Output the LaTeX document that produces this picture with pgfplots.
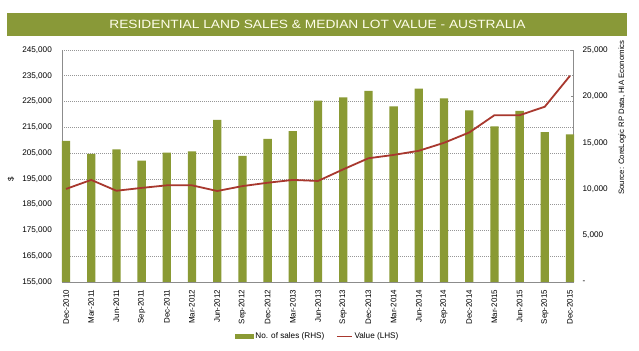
\documentclass[border=0pt]{standalone}
\usepackage{fontspec}
\setmainfont{Liberation Sans}
\usepackage{pgfplots}
\pgfplotsset{compat=1.18}
\definecolor{olivebar}{RGB}{138,154,52}
\definecolor{titlegreen}{RGB}{137,153,56}
\definecolor{linered}{RGB}{168,56,46}
\definecolor{gridgray}{RGB}{150,150,150}
\definecolor{axisgray}{RGB}{140,140,140}
\begin{document}
\begin{tikzpicture}
\useasboundingbox (0bp,0bp) rectangle (639bp,351bp);
\fill[white] (0bp,0bp) rectangle (639bp,351bp);
% title bar
\fill[titlegreen] (7.3bp,315.3bp) rectangle (626.7bp,337.7bp);
\node[text=white!92!yellow, inner sep=0pt] at (317.4bp,326.5bp) {\scalebox{1.15}[1]{\fontsize{12}{14}\selectfont RESIDENTIAL LAND SALES \& MEDIAN LOT VALUE - AUSTRALIA}};

\pgfplotsset{
  common/.style={
    at={(62bp,69bp)}, anchor=south west,
    scale only axis, width=511.5bp, height=232bp,
    xmin=-0.159, xmax=20.139,
    clip=false, scaled y ticks=false, scaled x ticks=false,
  }
}
% Axis 1: left scale, grid
\begin{axis}[common,
  ymin=155000, ymax=245000,
  axis x line=none, axis y line=left,
  axis line style={-, draw=axisgray, line width=0.6bp},
  ytick={155000,165000,175000,185000,195000,205000,215000,225000,235000,245000},
  yticklabels={{155,000},{165,000},{175,000},{185,000},{195,000},{205,000},{215,000},{225,000},{235,000},{245,000}},
  yticklabel style={font=\fontsize{8.2}{9}\selectfont, inner sep=0pt},
  yticklabel shift=10bp,
  major tick length=0pt,
  ymajorgrids, grid style={draw=gridgray, line width=0.6bp, dash pattern=on 0.8bp off 1.2bp},
]
\end{axis}
% Axis 2: right scale, bars
\begin{axis}[common,
  ymin=0, ymax=25000,
  axis x line=bottom, axis y line=right,
  axis line style={-, draw=axisgray, line width=0.6bp},
  ybar, bar width=8.3bp,
  xtick={0,1,...,20},
  xticklabels={Dec-2010,Mar-2011,Jun-2011,Sep-2011,Dec-2011,Mar-2012,Jun-2012,Sep-2012,Dec-2012,Mar-2013,Jun-2013,Sep-2013,Dec-2013,Mar-2014,Jun-2014,Sep-2014,Dec-2014,Mar-2015,Jun-2015,Sep-2015,Dec-2015},
  xticklabel style={rotate=90, anchor=east, inner sep=0pt, font=\fontsize{8}{9}\selectfont},
  xticklabel shift=5bp,
  xtick style={draw=none},
  ytick={0,5000,10000,15000,20000,25000},
  yticklabels={{-},{5,000},{10,000},{15,000},{20,000},{25,000}},
  yticklabel style={font=\fontsize{8.2}{9}\selectfont, inner sep=0pt, anchor=west},
  yticklabel shift=9bp,
  ytick style={draw=axisgray, line width=0.6bp},
  ytick align=inside, major tick length=2.5bp,
]
\addplot[fill=olivebar, draw=none] coordinates {
(0,15200) (1,13800) (2,14300) (3,13070) (4,13930) (5,14080) (6,17460)
(7,13580) (8,15410) (9,16270) (10,19540) (11,19900) (12,20600) (13,18930)
(14,20830) (15,19790) (16,18500) (17,16780) (18,18430) (19,16160) (20,15910)};
\end{axis}
% Axis 3: line on left scale
\begin{axis}[common,
  ymin=155000, ymax=245000,
  hide axis,
  legend style={at={(axis description cs:0.338,-0.235)}, anchor=west, draw=none, fill=none,
    font=\fontsize{8.2}{9}\selectfont, legend columns=2, inner sep=0pt,
    /tikz/every even column/.append style={column sep=10bp}},
  legend cell align=left,
]
\addlegendimage{legend image code/.code={\fill[olivebar] (0bp,-2bp) rectangle (18bp,2bp);}}
\addlegendentry{No. of sales (RHS)}
\addplot[color=linered, line width=1.8bp, mark=none,
  legend image code/.code={\draw[linered, line width=1.2bp] (0bp,0bp) -- (15bp,0bp);}] coordinates {
(0,191100) (1,194600) (2,190400) (3,191500) (4,192500) (5,192500) (6,190300)
(7,192200) (8,193500) (9,194600) (10,194200) (11,198700) (12,203000) (13,204300)
(14,205900) (15,209000) (16,213000) (17,219700) (18,219700) (19,223000) (20,235000)};
\addlegendentry{Value (LHS)}
\end{axis}
% source note and $ label
\node[rotate=90, inner sep=0pt, font=\fontsize{7.8}{9}\selectfont] at (622bp,233.5bp) {Source: CoreLogic RP Data, HIA Economics};
\node[rotate=90, inner sep=0pt, font=\fontsize{8}{9}\selectfont] at (11bp,172bp) {\$};
\end{tikzpicture}
\end{document}
